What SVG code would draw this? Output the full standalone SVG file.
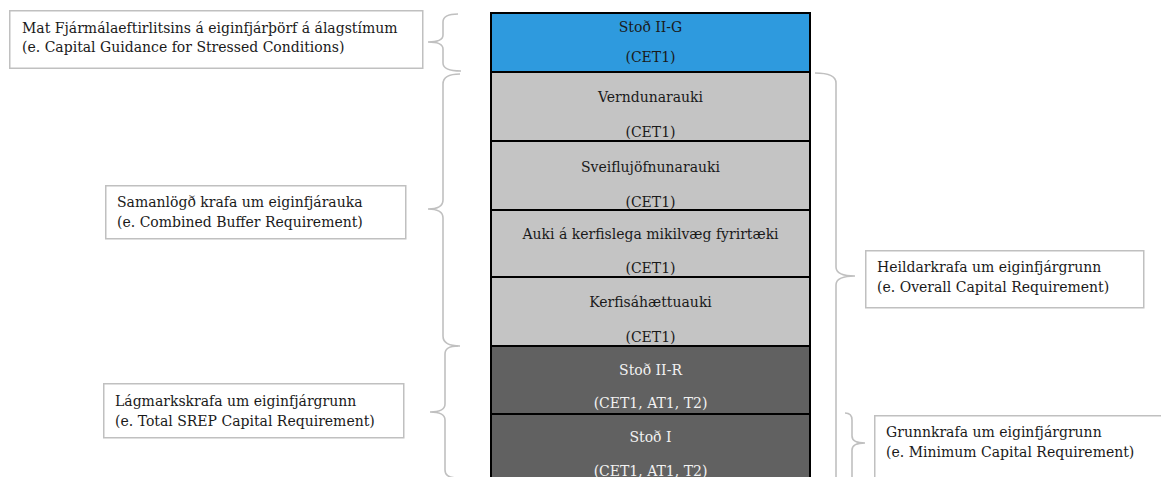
<svg xmlns="http://www.w3.org/2000/svg" width="1161" height="477" viewBox="0 0 1161 477">
<style>
.t{font-family:"DejaVu Serif","Liberation Serif",serif;font-size:14px;}
.c{text-anchor:middle;}
.dk{fill:#1a1a1a;}
.lt{fill:#f2f2f2;}
.box{fill:#ffffff;stroke:#c0c0c0;stroke-width:1.5;}
.seg{stroke:#000;stroke-width:2;}
.br{fill:none;stroke:#c0c0c0;stroke-width:1.6;}
</style>
<rect width="1161" height="477" fill="#ffffff"/>
<g id="stack">
<g id="seg-stod2g"><rect class="seg" x="491" y="13" width="319" height="59" fill="#2e9ade"/><text class="t c dk" x="650.5" y="32">Stoð II-G</text><text class="t c dk" x="650.5" y="62">(CET1)</text></g>
<g id="seg-vernd"><rect class="seg" x="491" y="72" width="319" height="69" fill="#c4c4c4"/><text class="t c dk" x="650.5" y="102">Verndunarauki</text><text class="t c dk" x="650.5" y="137">(CET1)</text></g>
<g id="seg-sveiflu"><rect class="seg" x="491" y="141" width="319" height="69" fill="#c4c4c4"/><text class="t c dk" x="650.5" y="172">Sveiflujöfnunarauki</text><text class="t c dk" x="650.5" y="207">(CET1)</text></g>
<g id="seg-auki"><rect class="seg" x="491" y="210" width="319" height="67" fill="#c4c4c4"/><text class="t c dk" x="650.5" y="239">Auki á kerfislega mikilvæg fyrirtæki</text><text class="t c dk" x="650.5" y="273">(CET1)</text></g>
<g id="seg-kerfis"><rect class="seg" x="491" y="277" width="319" height="69" fill="#c4c4c4"/><text class="t c dk" x="650.5" y="307">Kerfisáhættuauki</text><text class="t c dk" x="650.5" y="342">(CET1)</text></g>
<g id="seg-stod2r"><rect class="seg" x="491" y="346" width="319" height="68" fill="#616161"/><text class="t c lt" x="650.5" y="375">Stoð II-R</text><text class="t c lt" x="650.5" y="408">(CET1, AT1, T2)</text></g>
<g id="seg-stod1"><rect class="seg" x="491" y="414" width="319" height="76" fill="#616161"/><text class="t c lt" x="650.5" y="442">Stoð I</text><text class="t c lt" x="650.5" y="476">(CET1, AT1, T2)</text></g>
</g>
<g id="connectors">
<path class="br" d="M458 14 Q443 14 443 22 L443 35 Q443 42 428 42 Q443 42 443 49 L443 63 Q443 71 461 71"/>
<path class="br" d="M460 74 Q443 74 443 84 L443 200 Q443 209 428 209 Q443 209 443 218 L443 336 Q443 346 460 346"/>
<path class="br" d="M458 346 Q445 346 445 354 L445 404 Q445 412 430 412 Q445 412 445 420 L445 470 Q445 478 458 478"/>
<path class="br" d="M815 73 Q836 73 836 83 L836 267 Q836 276 855 276 Q836 276 836 285 L836 480"/>
<path class="br" d="M845 413 Q852 413 852 420 L852 436 Q852 443 865 443 Q852 443 852 450 L852 480"/>
</g>
<g id="label-stress"><rect class="box" x="9.75" y="10.75" width="413" height="57.5"/><text class="t dk" x="22" y="33">Mat Fjármálaeftirlitsins á eiginfjárþörf á álagstímum</text><text class="t dk" x="22" y="52">(e. Capital Guidance for Stressed Conditions)</text></g>
<g id="label-combined"><rect class="box" x="105.75" y="185.75" width="300" height="53"/><text class="t dk" x="117" y="207">Samanlögð krafa um eiginfjárauka</text><text class="t dk" x="117" y="227">(e. Combined Buffer Requirement)</text></g>
<g id="label-tscr"><rect class="box" x="103.75" y="383.75" width="300" height="54"/><text class="t dk" x="115" y="406">Lágmarkskrafa um eiginfjárgrunn</text><text class="t dk" x="115" y="426">(e. Total SREP Capital Requirement)</text></g>
<g id="label-ocr"><rect class="box" x="865.75" y="250.75" width="278" height="57"/><text class="t dk" x="877" y="272">Heildarkrafa um eiginfjárgrunn</text><text class="t dk" x="877" y="292">(e. Overall Capital Requirement)</text></g>
<g id="label-mcr"><rect class="box" x="874.75" y="415.75" width="290" height="70"/><text class="t dk" x="886" y="437">Grunnkrafa um eiginfjárgrunn</text><text class="t dk" x="886" y="457">(e. Minimum Capital Requirement)</text></g>
</svg>
